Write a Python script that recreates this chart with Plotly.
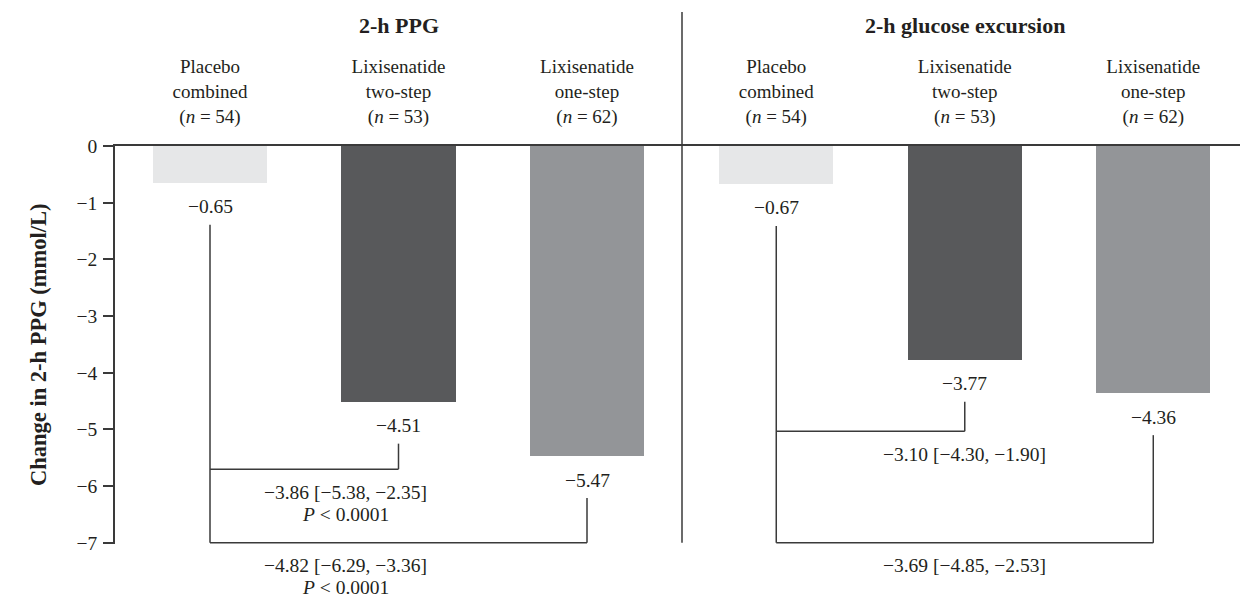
import plotly.graph_objects as go

# ---------------- data ----------------
groups = [
    "Placebo<br>combined<br>(<i>n</i> = 54)",
    "Lixisenatide<br>two-step<br>(<i>n</i> = 53)",
    "Lixisenatide<br>one-step<br>(<i>n</i> = 62)",
]
panel_titles = ["2-h PPG", "2-h glucose excursion"]
ppg_change = [-0.65, -4.51, -5.47]
excursion_change = [-0.67, -3.77, -4.36]
ppg_diff_labels = ["−3.86 [−5.38, −2.35]", "−4.82 [−6.29, −3.36]"]
ppg_p_labels = ["<i>P</i> &lt; 0.0001", "<i>P</i> &lt; 0.0001"]
exc_diff_labels = ["−3.10 [−4.30, −1.90]", "−3.69 [−4.85, −2.53]"]
exc_p_labels = ["", ""]
y_tick_vals = [0, -1, -2, -3, -4, -5, -6, -7]
y_tick_text = ["0", "−1", "−2", "−3", "−4", "−5", "−6", "−7"]
y_title = "Change in 2-h PPG (mmol/L)"

# ---------------- style ----------------
bar_colors = ["#e6e7e8", "#58595b", "#939598"]
FONT = "Liberation Serif"
TXT = "#231f20"
LINE = "#3a3a3a"
FS = 19.5
FSB = 22
W, H = 1240, 597
ML, MT, MB = 115, 146, 53
YMIN = -7.02
plot_h = H - MT - MB

def fmt(v):
    return ("−" if v < 0 else "") + f"{abs(v):.2f}"

fig = go.Figure()
fig.add_trace(go.Bar(x=groups, y=ppg_change, marker=dict(color=bar_colors, line=dict(width=0)),
                     width=0.605, xaxis="x", yaxis="y", hoverinfo="skip", showlegend=False))
fig.add_trace(go.Bar(x=groups, y=excursion_change, marker=dict(color=bar_colors, line=dict(width=0)),
                     width=0.605, xaxis="x2", yaxis="y", hoverinfo="skip", showlegend=False))

annotations = []
shapes = []
font = dict(family=FONT, size=FS, color=TXT)
bfont = dict(family=FONT, size=FSB, color=TXT)

# value labels under bars
for xr, vals in (("x", ppg_change), ("x2", excursion_change)):
    for g, v in zip(groups, vals):
        annotations.append(dict(x=g, y=v, xref=xr, yref="y", text=fmt(v), showarrow=False,
                                yanchor="middle", yshift=-24, font=font))

# panel titles
title_y = 1 + (MT - 25) / plot_h
for xr, t in (("x", panel_titles[0]), ("x2", panel_titles[1])):
    annotations.append(dict(x=groups[1], y=title_y, xref=xr, yref="paper", text=f"<b>{t}</b>",
                            showarrow=False, yanchor="middle", font=bfont))

# brackets
gap = 0.74  # gap below value label
def seg(xr, x0, y0, x1, y1):
    shapes.append(dict(type="line", xref=xr, yref="y", x0=x0, y0=y0, x1=x1, y1=y1,
                       line=dict(color=LINE, width=1.5)))

panels = [
    ("x", ppg_change, -5.70, ppg_diff_labels, ppg_p_labels, -53),
    ("x2", excursion_change, -5.03, exc_diff_labels, exc_p_labels, 0),
]
for xr, vals, lvl1, labels, plabels, xsh in panels:
    seg(xr, groups[0], vals[0] - gap, groups[0], -7)
    seg(xr, groups[0], lvl1, groups[1], lvl1)
    seg(xr, groups[1], lvl1, groups[1], vals[1] - gap)
    seg(xr, groups[0], -7, groups[2], -7)
    seg(xr, groups[2], -7, groups[2], vals[2] - gap)
    for lvl, lab, plab in ((lvl1, labels[0], plabels[0]), (-7, labels[1], plabels[1])):
        annotations.append(dict(x=groups[1], y=lvl, xref=xr, yref="y", text=lab, showarrow=False,
                                yanchor="middle", yshift=-23, xshift=xsh, font=font))
        if plab:
            annotations.append(dict(x=groups[1], y=lvl, xref=xr, yref="y", text=plab,
                                    showarrow=False, yanchor="middle", yshift=-45, xshift=xsh,
                                    font=font))

# divider between panels
shapes.append(dict(type="line", xref="x2 domain", yref="paper", x0=0, x1=0,
                   y0=(-7 - YMIN) / (0 - YMIN), y1=1 + (MT - 12) / plot_h,
                   line=dict(color=LINE, width=1.5)))

# y title
annotations.append(dict(x=-(ML - 24) / (W - ML), y=-3.5, xref="paper", yref="y",
                        text=f"<b>{y_title}</b>", textangle=-90, showarrow=False,
                        font=dict(family=FONT, size=22.5, color=TXT)))

split = (682 - ML) / (W - ML)
xcommon = dict(type="category", side="top", showline=True, linecolor=LINE, linewidth=1.5,
               ticks="", showgrid=False, zeroline=False, fixedrange=True, automargin=False,
               ticklabelstandoff=14, tickfont=dict(family=FONT, size=19, color=TXT))
fig.update_layout(
    width=W, height=H,
    margin=dict(l=ML, r=0, t=MT, b=MB, pad=0, autoexpand=False),
    paper_bgcolor="white", plot_bgcolor="white",
    bargap=0,
    xaxis=dict(domain=[0, split], range=[-0.504, 2.504], anchor="y", **xcommon),
    xaxis2=dict(domain=[split, 1], range=[-0.5, 2.46], anchor="y", **xcommon),
    yaxis=dict(range=[YMIN, 0], tickvals=y_tick_vals, ticktext=y_tick_text,
               ticks="outside", ticklen=10, tickwidth=1.5, tickcolor=LINE,
               showline=True, linecolor=LINE, linewidth=1.5, automargin=False,
               ticklabelstandoff=2,
               showgrid=False, zeroline=False, fixedrange=True, tickfont=font),
    annotations=annotations,
    shapes=shapes,
    font=font,
)

fig.write_html("out.html", config={"displayModeBar": False},
               post_script="document.body.style.margin='0';document.body.style.overflow='hidden';")
